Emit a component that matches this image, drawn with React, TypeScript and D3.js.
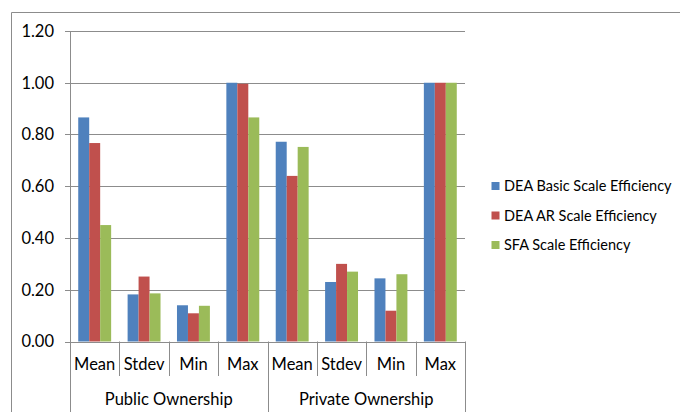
import React from "react";
import * as d3 from "d3";

const groups = ["Public Ownership", "Private Ownership"];
const stats = ["Mean", "Stdev", "Min", "Max"];
const seriesNames = ["DEA Basic Scale Efficiency", "DEA AR Scale Efficiency", "SFA Scale Efficiency"];
const colors = ["#4F81BD", "#C0504D", "#9BBB59"];
// values per series, in order: Public (Mean, Stdev, Min, Max), Private (Mean, Stdev, Min, Max)
const deaBasic = [0.866, 0.182, 0.14, 1.0, 0.772, 0.23, 0.244, 1.0];
const deaAR = [0.767, 0.251, 0.109, 0.996, 0.64, 0.3, 0.119, 1.0];
const sfa = [0.45, 0.186, 0.138, 0.866, 0.752, 0.27, 0.26, 1.0];
const yTicks = [0, 0.2, 0.4, 0.6, 0.8, 1.0, 1.2];

const FONT = "Lato, 'Liberation Sans', sans-serif";

export default function App() {
  const W = 680, H = 412;
  const left = 70, right = 465, top = 31, bottom = 341.5;
  const seriesData = [deaBasic, deaAR, sfa];
  const cats = groups.flatMap((g) => stats.map((s) => `${g}|${s}`));
  const x0 = d3.scaleBand<string>().domain(cats).range([left, right]).paddingInner(0).paddingOuter(0);
  const x1 = d3.scaleBand<string>().domain(seriesNames).range([0, x0.step()]).paddingInner(0).paddingOuter(0.75);
  const y = d3.scaleLinear().domain([0, 1.2]).range([bottom, top]);
  const grid = "#8C8C8C";
  const catLabelY = 364;
  const groupLabelY = 399;
  const tickBottom = 376;

  return (
    <svg width={W} height={H} style={{ position: "absolute", left: 0, top: 0, background: "#fff" }}>
      <rect x={0} y={0} width={W} height={H} fill="#fff" />
      {/* outer chart border */}
      <line x1={11.5} y1={12.5} x2={W} y2={12.5} stroke={grid} strokeWidth={1} />
      <line x1={11.5} y1={12.5} x2={11.5} y2={H} stroke={grid} strokeWidth={1} />
      {/* gridlines + y labels */}
      {yTicks.map((t) => (
        <g key={t}>
          <line x1={left - 5} x2={right} y1={Math.round(y(t)) + 0.5} y2={Math.round(y(t)) + 0.5} stroke={grid} strokeWidth={1} />
          <text x={54} y={y(t)} dy="0.35em" textAnchor="end" fontFamily={FONT} fontSize={16.5} fill="#000">
            {t.toFixed(2)}
          </text>
        </g>
      ))}
      {/* bars */}
      {seriesData.map((vals, si) =>
        vals.map((v, ci) => (
          <rect
            key={`${si}-${ci}`}
            x={(x0(cats[ci]) as number) + (x1(seriesNames[si]) as number)}
            y={y(v)}
            width={x1.bandwidth()}
            height={bottom - y(v)}
            fill={colors[si]}
          />
        ))
      )}
      {/* y axis line */}
      <line x1={left + 0.5} x2={left + 0.5} y1={top} y2={H} stroke={grid} strokeWidth={1} />
      {/* category tick separators */}
      {cats.map((c, i) =>
        i === 0 ? null : (
          <line
            key={c}
            x1={Math.round(x0(c) as number) + 0.5}
            x2={Math.round(x0(c) as number) + 0.5}
            y1={bottom}
            y2={i % 4 === 0 ? H : tickBottom}
            stroke={grid}
            strokeWidth={1}
          />
        )
      )}
      <line x1={right + 0.5} x2={right + 0.5} y1={bottom} y2={H} stroke={grid} strokeWidth={1} />
      {/* category labels */}
      {cats.map((c) => (
        <text
          key={c}
          x={(x0(c) as number) + x0.bandwidth() / 2}
          y={catLabelY}
          dy="0.35em"
          textAnchor="middle"
          fontFamily={FONT}
          fontSize={16.5}
          fill="#000"
        >
          {c.split("|")[1]}
        </text>
      ))}
      {/* group labels */}
      {groups.map((g) => {
        const a = x0(`${g}|${stats[0]}`) as number;
        const b = (x0(`${g}|${stats[stats.length - 1]}`) as number) + x0.bandwidth();
        return (
          <text key={g} x={(a + b) / 2} y={groupLabelY} dy="0.35em" textAnchor="middle" fontFamily={FONT} fontSize={16.5} fill="#000">
            {g}
          </text>
        );
      })}
      {/* legend */}
      {seriesNames.map((s, i) => (
        <g key={s} transform={`translate(491.5, ${186 + i * 29.5})`}>
          <rect x={0} y={-4} width={8} height={8} fill={colors[i]} />
          <text x={12.5} y={0} dy="0.35em" fontFamily={FONT} fontSize={14.5} fill="#000">
            {s}
          </text>
        </g>
      ))}
    </svg>
  );
}
